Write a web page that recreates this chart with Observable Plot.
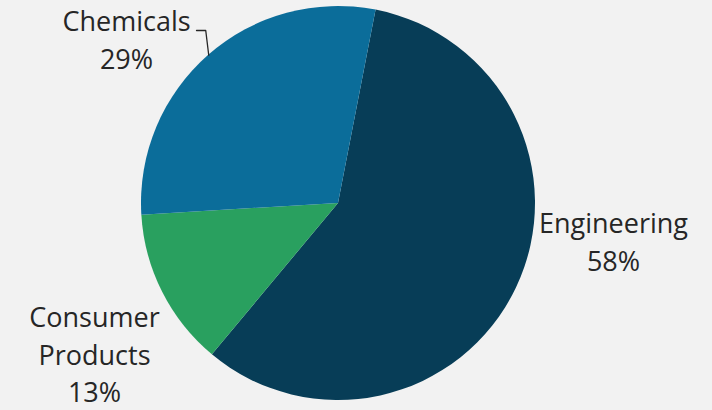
<!DOCTYPE html>
<html>
<head>
<meta charset="utf-8">
<script src="https://cdn.jsdelivr.net/npm/d3@7"></script>
<script src="https://cdn.jsdelivr.net/npm/@observablehq/plot@0.6"></script>
<style>
  html, body { margin: 0; padding: 0; background: #f2f2f2; }
  #chart svg { display: block; }
</style>
</head>
<body>
<div id="chart"></div>
<script>
// ---- data ----
const categories = ["Engineering", "Consumer Products", "Chemicals"];
const shares = [58, 13, 29];
const colors = ["#073d57", "#29a05f", "#0b6d9a"];

// ---- layout (pixels) ----
const W = 712, H = 410;
const center = [338, 203];
const radius = 197;
const startDeg = 11;
const labelAnchors = [[613, 206], [94, 300], [126, 4]]; // top of each label block
const fontSize = 27;
const lineH = 37.5;

const rows = categories.map((c, i) => ({category: c, value: shares[i], color: colors[i]}));
const arcs = d3.pie().sort(null).value(d => d.value)
  .startAngle(startDeg * Math.PI / 180)
  .endAngle(startDeg * Math.PI / 180 + 2 * Math.PI)(rows);

const labels = rows.map((d, i) => ({
  text: (d.category.length > 12 ? d.category.replace(" ", "\n") : d.category) + "\n" + d.value + "%",
  x: labelAnchors[i][0],
  y: labelAnchors[i][1]
}));

// leader line for Chemicals: from label's right end, short elbow, to arc edge at slice mid-angle
const chem = arcs[2];
const mid = (chem.startAngle + chem.endAngle) / 2;
const edge = [center[0] + radius * Math.sin(mid), center[1] - radius * Math.cos(mid)];
const leader = [
  {x: 196, y: 30},
  {x: edge[0] - 3, y: 30},
  {x: edge[0], y: edge[1]}
];

function pieMark(index, scales) {
  const cx = scales.x(center[0]), cy = scales.y(center[1]);
  const r = scales.x(center[0] + radius) - cx;
  const g = d3.create("svg:g").attr("transform", `translate(${cx},${cy})`);
  g.selectAll("path").data(arcs).join("path")
    .attr("d", d3.arc().innerRadius(0).outerRadius(r))
    .attr("fill", d => d.data.color);
  return g.node();
}

const chart = Plot.plot({
  width: W,
  height: H,
  margin: 0,
  x: {domain: [0, W], range: [0, W], axis: null},
  y: {domain: [0, H], range: [0, H], axis: null},
  style: {background: "#f2f2f2", fontFamily: "'Open Sans', sans-serif"},
  marks: [
    pieMark,
    Plot.line(leader, {x: "x", y: "y", stroke: "#262626", strokeWidth: 1.3}),
    Plot.text(labels, {
      x: "x", y: "y", text: "text",
      fontSize: fontSize, fill: "#262626",
      lineAnchor: "top", lineHeight: lineH / fontSize,
      textAnchor: "middle"
    })
  ]
});
document.getElementById("chart").appendChild(chart);
</script>
</body>
</html>
